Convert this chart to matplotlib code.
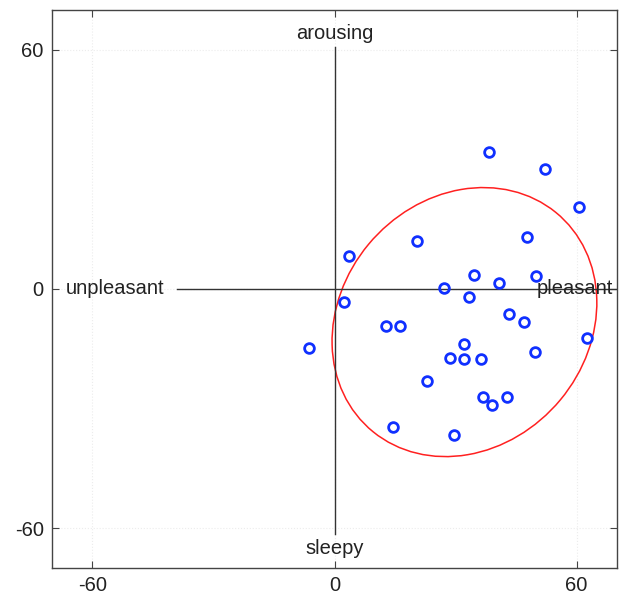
import numpy as np
import matplotlib.pyplot as plt
from matplotlib.patches import Ellipse

plt.rcParams['font.family'] = ['Liberation Sans', 'DejaVu Sans']
plt.rcParams['axes.unicode_minus'] = False

# pleasantness (x) and arousal (y) of each item
valence = [38.4, 52.1, 60.6, 20.5, 47.6, 3.5, 34.6, 49.9, 40.8, 27.2,
           33.3, 2.4, 43.2, 46.9, 12.8, 16.3, 62.6, -6.4, 32.0, 28.5,
           32.0, 36.2, 49.7, 22.9, 36.9, 39.0, 42.7, 14.5, 29.7]
arousal = [34.4, 30.2, 20.6, 12.0, 13.0, 8.4, 3.6, 3.3, 1.5, 0.25,
           -1.9, -3.3, -6.2, -8.2, -9.2, -9.2, -12.3, -14.7, -13.7, -17.3,
           -17.6, -17.6, -15.8, -23.1, -27.2, -29.1, -27.2, -34.5, -36.6]

# ellipse: centre and covariance-like shape
ell_center = [32.2, -8.3]
ell_cov = np.array([[1076.0, 159.0], [159.0, 1139.0]])

ticks = [-60, 0, 60]

fig = plt.figure(figsize=(6.28, 5.99), dpi=100)
ax = fig.add_axes([52/628, 1-568/599, (617-52)/628, (568-10)/599])

ax.set_xlim(-70, 70)
ax.set_ylim(-70, 70)
ax.set_xticks(ticks)
ax.set_yticks(ticks)
ax.grid(True, color='#ececec', linestyle=':', linewidth=0.8)
ax.set_axisbelow(True)

# axis cross
ax.plot([-39, 70], [0, 0], color='#333333', lw=1)
ax.plot([0, 0], [-61.5, 60.8], color='#333333', lw=1)

# ellipse
vals, vecs = np.linalg.eigh(ell_cov)
ang = np.degrees(np.arctan2(vecs[1, 1], vecs[0, 1]))
ax.add_patch(Ellipse(ell_center, 2*np.sqrt(vals[1]), 2*np.sqrt(vals[0]),
                     angle=ang, fill=False, edgecolor='#ff2020', lw=1.1))

ax.plot(valence, arousal, 'o', mfc='none', mec='#1030ff', ms=7, mew=2)

fs = 14.5
ax.text(0, 64, 'arousing', ha='center', va='center', fontsize=fs, color='#222222')
ax.text(0, -65, 'sleepy', ha='center', va='center', fontsize=fs, color='#222222')
ax.text(-66.5, 0, 'unpleasant', ha='left', va='center', fontsize=fs, color='#222222')
ax.text(50, 0, 'pleasant', ha='left', va='center', fontsize=fs, color='#222222')

for s in ax.spines.values():
    s.set_color('#444444')
    s.set_linewidth(1)
ax.tick_params(direction='in', length=5, top=True, right=True, color='#444444',
               labelsize=fs, labelcolor='#222222', pad=6)

fig.savefig('out.png', dpi=100)
